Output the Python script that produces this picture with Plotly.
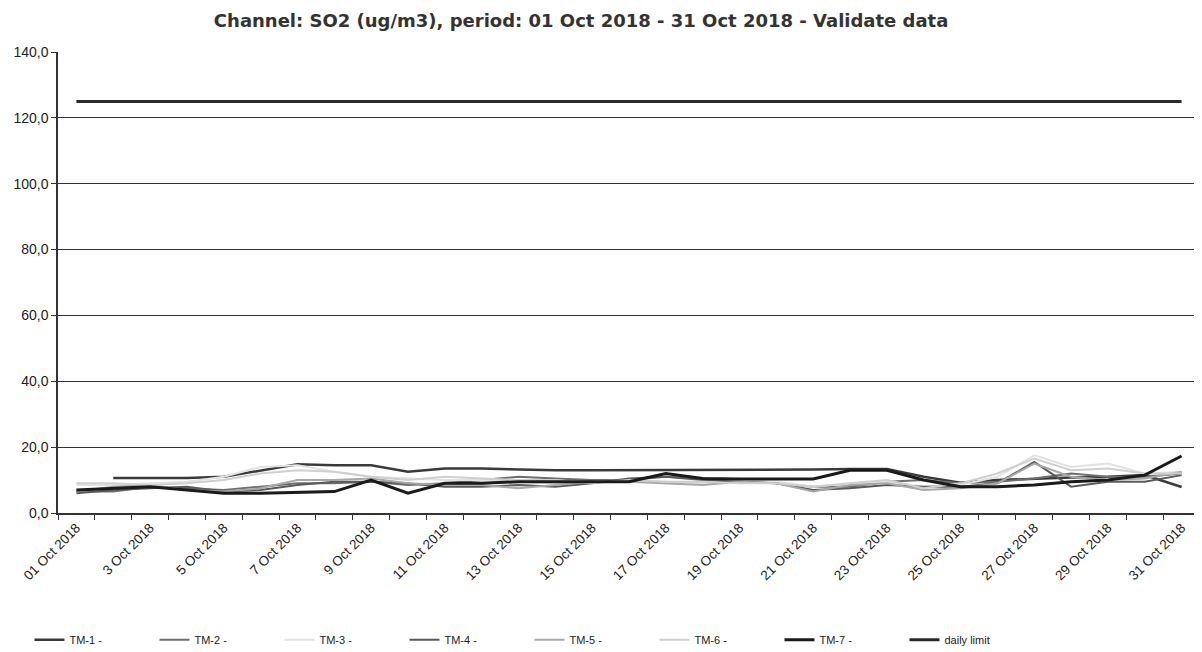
import plotly.graph_objects as go

days = [f"{d:02d} Oct 2018" if d == 1 else f"{d} Oct 2018" for d in range(1, 32)]
tick_labels = [lab if (i % 2 == 0) else "" for i, lab in enumerate(days)]

tm1 = [None, 10.6, 10.6, 10.6, 11.0, 12.8, 14.8, 14.5, 14.5, 12.5, 13.5, 13.5, 13.2, 13.0, 13.0,
       13.0, 13.0, 13.2, 13.2, 13.0, 13.2, 13.4, 13.4, 11.0, 9.2, 10.0, 10.5, 10.8, 11.0, 11.5, 7.9]
tm2 = [6.5, 6.5, 8.0, 7.5, 7.0, 8.0, 9.0, 9.0, 9.5, 8.5, 9.0, 10.0, 11.0, 10.5, 10.0,
       10.0, 11.0, 10.5, 10.0, 9.0, 8.0, 8.0, 9.5, 10.0, 9.0, 9.5, 10.5, 12.0, 11.0, 11.0, 12.0]
tm3 = [8.5, 8.5, 9.0, 9.5, 11.0, 14.0, 14.5, 12.5, 11.0, 10.5, 10.0, 10.0, 9.5, 9.0, 9.5,
       10.0, 9.5, 9.0, 10.0, 9.5, 8.0, 9.0, 9.5, 8.0, 8.5, 11.0, 17.5, 14.0, 15.0, 12.0, 12.5]
tm4 = [6.0, 7.0, 7.5, 8.0, 6.5, 7.0, 8.5, 9.5, 9.5, 9.0, 8.0, 8.0, 8.5, 8.0, 9.0,
       10.5, 11.0, 10.0, 9.5, 9.0, 7.0, 7.5, 8.5, 8.0, 8.0, 9.0, 15.5, 8.0, 9.5, 9.5, 11.5]
tm5 = [6.5, 8.0, 8.5, 7.0, 6.5, 7.5, 10.0, 10.0, 10.5, 9.0, 8.5, 8.5, 7.5, 8.5, 9.5,
       9.5, 9.0, 8.5, 9.5, 9.0, 6.5, 8.5, 9.0, 7.0, 7.5, 9.0, 15.0, 11.0, 10.0, 10.5, 12.5]
tm6 = [9.0, 9.0, 8.5, 9.0, 10.0, 12.0, 13.0, 12.5, 11.0, 10.0, 11.0, 10.5, 10.0, 10.0, 9.0,
       10.0, 9.5, 9.5, 9.0, 9.0, 8.0, 9.0, 10.0, 7.5, 9.0, 12.0, 16.5, 13.0, 13.5, 12.0, 12.0]
tm7 = [7.0, 7.5, 8.0, 7.0, 6.0, 6.0, 6.3, 6.5, 10.0, 6.0, 9.0, 9.0, 9.5, 9.5, 9.5,
       9.5, 12.0, 10.5, 10.3, 10.3, 10.3, 13.0, 13.0, 10.0, 8.0, 8.0, 8.5, 9.5, 10.0, 11.5, 17.3]
limit = [125.0] * 31

series = [
    ("TM-1 -", tm1, "#3a3a3a", 2.5),
    ("TM-2 -", tm2, "#6e6e6e", 2),
    ("TM-3 -", tm3, "#e2e2e2", 2),
    ("TM-4 -", tm4, "#5a5a5a", 2),
    ("TM-5 -", tm5, "#a8a8a8", 2),
    ("TM-6 -", tm6, "#cfcfcf", 2),
    ("TM-7 -", tm7, "#1a1a1a", 3),
    ("daily limit", limit, "#2a2a2a", 3),
]

fig = go.Figure()
for name, vals, color, w in series:
    fig.add_trace(go.Scatter(x=days, y=vals, mode="lines", name=name,
                             line=dict(color=color, width=w), connectgaps=False))

y_ticks = [0, 20, 40, 60, 80, 100, 120, 140]
y_text = [f"{v},0" for v in y_ticks]

fig.update_layout(
    width=1194, height=644,
    paper_bgcolor="white", plot_bgcolor="white",
    margin=dict(l=50, r=2, t=44, b=139, autoexpand=False),
    font=dict(family="Liberation Sans, Arial", size=12, color="#222"),
    title=dict(text="<b>Channel: SO2 (ug/m3), period: 01 Oct 2018 - 31 Oct 2018 - Validate data</b>",
               x=0.48, xanchor="center", y=0.981, yanchor="middle",
               font=dict(family="DejaVu Sans", size=18, color="#333")),
    showlegend=True,
    legend=dict(orientation="h", xref="container", yref="container",
                x=0.018, y=0.019, xanchor="left", yanchor="middle",
                entrywidth=80, entrywidthmode="pixels",
                font=dict(family="Liberation Sans, Arial", size=11, color="#222"),
                itemwidth=30),
)

fig.update_xaxes(
    type="category", categoryorder="array", categoryarray=days,
    tickmode="array", tickvals=days, ticktext=tick_labels,
    tickson="boundaries", ticks="outside", ticklen=5, tickcolor="#333",
    tickangle=-45, tickfont=dict(size=13.5, color="#222"),
    showgrid=False, showline=True, linecolor="#333", linewidth=1.5,
    range=[-0.5, 30.5], zeroline=False, automargin=False,
)
fig.update_yaxes(
    range=[0, 140], tickmode="array", tickvals=y_ticks, ticktext=y_text,
    showgrid=True, gridcolor="#333", gridwidth=1,
    ticks="outside", ticklen=5, tickcolor="#333",
    showline=True, linecolor="#333", linewidth=1.5,
    tickfont=dict(size=14, color="#222"), zeroline=False, automargin=False,
)

fig.write_html("out.html")
